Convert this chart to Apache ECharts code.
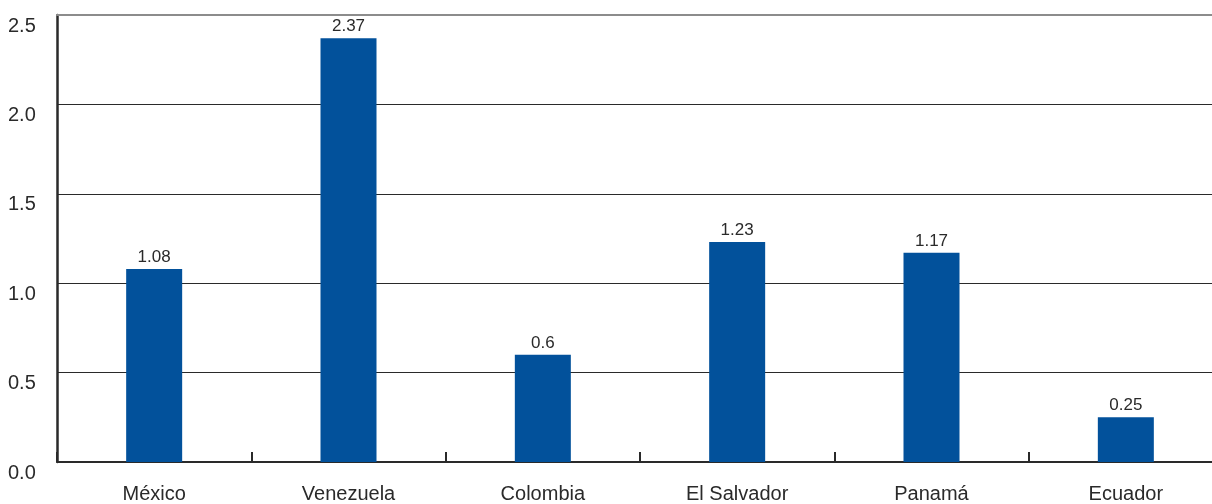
<!DOCTYPE html>
<html>
<head>
<meta charset="utf-8">
<script src="https://cdn.jsdelivr.net/npm/echarts@6/dist/echarts.min.js"></script>
<style>html,body{margin:0;padding:0;background:#fff}#c{width:1212px;height:504px}</style>
</head>
<body>
<div id="c"></div>
<script>
const categories = ['México', 'Venezuela', 'Colombia', 'El Salvador', 'Panamá', 'Ecuador'];
const values = [1.08, 2.37, 0.6, 1.23, 1.17, 0.25];
const yTicks = [0, 0.5, 1.0, 1.5, 2.0, 2.5];

const chart = echarts.init(document.getElementById('c'), null, {renderer: 'canvas'});
const font = '"Liberation Sans", Arial, Helvetica, sans-serif';
chart.setOption({
  animation: false,
  backgroundColor: '#fff',
  textStyle: {fontFamily: font},
  grid: {left: 57, top: 15, right: -11, bottom: 42, containLabel: false, outerBoundsMode: 'none'},
  xAxis: [{
    type: 'category',
    data: categories,
    boundaryGap: true,
    axisLine: {show: true, lineStyle: {color: '#2a2a2a', width: 2}},
    axisTick: {show: true, inside: true, length: 10, interval: 0, lineStyle: {color: '#2a2a2a', width: 2}},
    axisLabel: {fontSize: 20, color: '#2a2a2a', margin: 22, fontFamily: font, interval: 0},
    splitLine: {show: false}
  }, {
    type: 'category',
    data: categories,
    position: 'top',
    axisLine: {show: true, lineStyle: {color: '#8c8c8c', width: 2}},
    axisTick: {show: false},
    axisLabel: {show: false}
  }],
  yAxis: {
    type: 'value',
    min: yTicks[0],
    max: yTicks[yTicks.length - 1],
    interval: 0.5,
    axisLine: {show: true, lineStyle: {color: '#2a2a2a', width: 2.5}},
    axisTick: {show: false},
    axisLabel: {
      fontSize: 20, color: '#2a2a2a', fontFamily: font,
      align: 'left', verticalAlign: 'top', margin: 49, padding: [1, 0, 0, 0],
      formatter: v => v.toFixed(1)
    },
    splitLine: {show: true, lineStyle: {color: ['#2a2a2a','#2a2a2a','#2a2a2a','#2a2a2a','#2a2a2a','#8c8c8c'], width: 1}}
  },
  series: [{
    type: 'bar',
    data: values,
    barWidth: 56,
    itemStyle: {color: '#02519b'},
    label: {show: true, position: 'top', distance: 3, fontSize: 17, color: '#2a2a2a', fontFamily: font}
  }]
});
</script>
</body>
</html>
